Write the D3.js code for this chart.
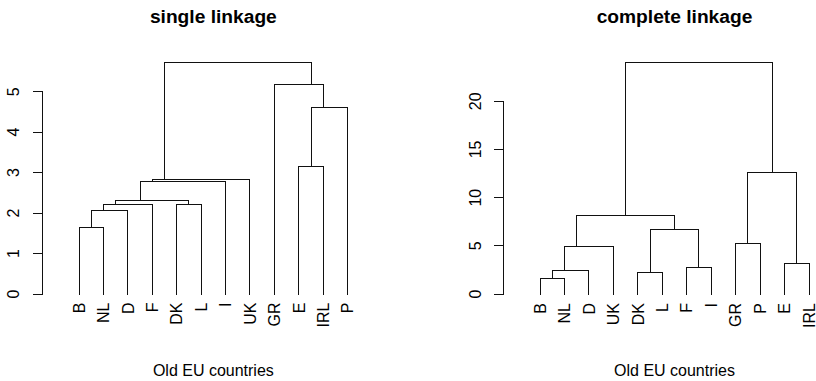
<!DOCTYPE html>
<html>
<head>
<meta charset="utf-8">
<script src="https://cdn.jsdelivr.net/npm/d3@7"></script>
<style>
  body { margin: 0; background: #fff; }
  svg text { font-family: "Liberation Sans", Arial, Helvetica, sans-serif; fill: #000; }
</style>
</head>
<body>
<svg id="chart" width="816" height="381"></svg>
<script>
// merges in hclust style: a name is a leaf, a number n points to merge step n (1-based)
const single_merge = [["B","NL"],[1,"D"],[2,"F"],["DK","L"],[3,4],[5,"I"],[6,"UK"],["E","IRL"],[8,"P"],["GR",9],[7,10]];
const single_heights = [1.65, 2.06, 2.21, 2.22, 2.30, 2.77, 2.83, 3.14, 4.60, 5.17, 5.72];
const single_ticks = [0, 1, 2, 3, 4, 5];

const complete_merge = [["B","NL"],[1,"D"],["DK","L"],["F","I"],["E","IRL"],[2,"UK"],["GR","P"],[3,4],[6,8],[7,5],[9,10]];
const complete_heights = [1.66, 2.46, 2.25, 2.80, 3.19, 4.88, 5.22, 6.72, 8.10, 12.6, 24.05];
const complete_ticks = [0, 5, 10, 15, 20];

const x_label = "Old EU countries";

let svg = d3.select("#chart");

function crisp(v) { return Math.round(v - 0.5) + 0.5; }

function drawDendro(opts) {
  let merge = opts.merge, heights = opts.heights;

  // leaf order: walk the tree from the last merge, left child first
  function leaves(ref) {
    if (typeof ref === "string") return [ref];
    let m = merge[ref - 1];
    return leaves(m[0]).concat(leaves(m[1]));
  }
  let order = leaves(merge.length);

  let x_scale = d3.scalePoint().domain(order).range(opts.x_range);
  let y_scale = d3.scaleLinear().domain([0, d3.max(opts.ticks)]).range(opts.y_range);

  // position of a leaf or merge node
  function pos(ref) {
    if (typeof ref === "string") return {x: x_scale(ref), y: y_scale(0)};
    return {x: d3.mean(leaves(ref), l => x_scale(l)), y: y_scale(heights[ref - 1])};
  }

  let g = svg.append("g");

  // branches
  g.selectAll(".branch")
    .data(merge.map((m, i) => i + 1))
    .join("path")
    .attr("class", "branch")
    .attr("fill", "none")
    .attr("stroke", "#111")
    .attr("stroke-width", 1)
    .attr("shape-rendering", "crispEdges")
    .attr("d", n => {
      let a = pos(merge[n - 1][0]), b = pos(merge[n - 1][1]);
      let y = crisp(y_scale(heights[n - 1]));
      return `M${crisp(a.x)},${crisp(a.y)}V${y}H${crisp(b.x)}V${crisp(b.y)}`;
    });

  // y axis (R style: line only between first and last tick)
  let ax = crisp(opts.axis_x);
  g.append("path")
    .attr("fill", "none")
    .attr("stroke", "#111")
    .attr("shape-rendering", "crispEdges")
    .attr("d", `M${ax},${crisp(y_scale(opts.ticks[0]))}V${crisp(y_scale(d3.max(opts.ticks)))}`);

  g.selectAll(".tick")
    .data(opts.ticks)
    .join("line")
    .attr("class", "tick")
    .attr("stroke", "#111")
    .attr("shape-rendering", "crispEdges")
    .attr("x1", ax - 10).attr("x2", ax)
    .attr("y1", d => crisp(y_scale(d))).attr("y2", d => crisp(y_scale(d)));

  g.selectAll(".tick-label")
    .data(opts.ticks)
    .join("text")
    .attr("class", "tick-label")
    .attr("font-size", 16)
    .attr("text-anchor", "middle")
    .attr("transform", d => `translate(${opts.tick_label_x}, ${y_scale(d)}) rotate(-90)`)
    .text(d => d);

  // leaf labels, rotated
  g.selectAll(".leaf-label")
    .data(order)
    .join("text")
    .attr("class", "leaf-label")
    .attr("font-size", 16)
    .attr("text-anchor", "end")
    .attr("transform", d => `translate(${x_scale(d) + 5.7}, ${opts.leaf_label_y}) rotate(-90)`)
    .text(d => d);

  // title
  let cx = (opts.x_range[0] + opts.x_range[1]) / 2;
  g.append("text")
    .attr("x", cx)
    .attr("y", 22.5)
    .attr("text-anchor", "middle")
    .attr("font-size", 19.2)
    .attr("font-weight", "bold")
    .text(opts.title);

  // x label
  g.append("text")
    .attr("x", cx)
    .attr("y", 376)
    .attr("text-anchor", "middle")
    .attr("font-size", 16)
    .text(x_label);
}

drawDendro({
  merge: single_merge, heights: single_heights, ticks: single_ticks,
  title: "single linkage",
  x_range: [79, 347.7], y_range: [294, 91.7],
  axis_x: 42.3, tick_label_x: 18.7, leaf_label_y: 302.5
});

drawDendro({
  merge: complete_merge, heights: complete_heights, ticks: complete_ticks,
  title: "complete linkage",
  x_range: [540, 809], y_range: [294, 101.3],
  axis_x: 503.3, tick_label_x: 481, leaf_label_y: 303
});
</script>
</body>
</html>
